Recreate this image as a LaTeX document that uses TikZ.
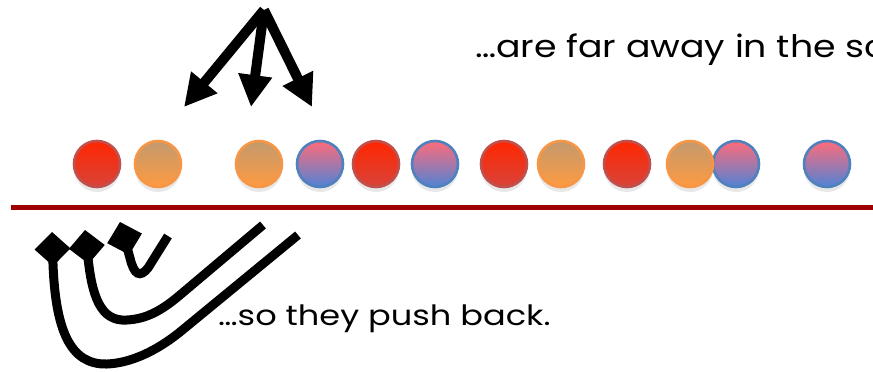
\documentclass[tikz,border=0pt]{standalone}
\usepackage{fontspec}
\setmainfont{Poppins}
\usetikzlibrary{arrows.meta, shadows}
\definecolor{redtop}{HTML}{FF2600}
\definecolor{redbot}{HTML}{D8443A}
\definecolor{redrim}{HTML}{C0504D}
\definecolor{orangetop}{HTML}{C29A6E}
\definecolor{orangebot}{HTML}{FF9A40}
\definecolor{orangerim}{HTML}{F79646}
\definecolor{bluetop}{HTML}{FF6B7A}
\definecolor{bluebot}{HTML}{5083D6}
\definecolor{bluerim}{HTML}{4F81BD}
\definecolor{floor}{HTML}{9E0000}
\tikzset{
  ball/.style={circle, inner sep=0pt, minimum size=46pt, line width=2.6pt,
    drop shadow={shadow xshift=0pt, shadow yshift=-5pt, opacity=0.18}},
  redball/.style={ball, draw=redrim, top color=redtop, bottom color=redbot},
  orangeball/.style={ball, draw=orangerim, top color=orangetop, bottom color=orangebot},
  blueball/.style={ball, draw=bluerim, top color=bluetop, bottom color=bluebot},
  bigarrow/.style={line width=10pt, -{Triangle[length=32pt, width=32pt]}},
  pushcurve/.style={line width=9pt, {Diamond[length=34pt, width=36pt]}-},
  words/.style={anchor=base west, inner sep=0pt}
}
\begin{document}
\begin{tikzpicture}[x=1pt, y=-1pt]
  \useasboundingbox (0,0) rectangle (873,372);
  \clip (0,0) rectangle (873,372);
  \coordinate (apex) at (264,10);
  \coordinate (tl) at (184,107);
  \coordinate (tm) at (251,107);
  \coordinate (tr) at (312,107);
  \draw[bigarrow] (apex) -- (tl);
  \draw[bigarrow] (apex) -- (tm);
  \draw[bigarrow] (apex) -- (tr);
  \node[words, font=\fontsize{31}{36}\selectfont] (far) at (475,57) {\scalebox{1.17}[1]{…are far away in the sco}};
  \node[redball] (b1) at (97,164) {};
  \node[orangeball] (b2) at (158,164) {};
  \node[orangeball] (b3) at (259,164) {};
  \node[blueball] (b4) at (320,164) {};
  \node[redball] (b5) at (376,164) {};
  \node[blueball] (b6) at (435,164) {};
  \node[redball] (b7) at (504,164) {};
  \node[orangeball] (b8) at (561,164) {};
  \node[redball] (b9) at (627,164) {};
  \node[blueball] (b11) at (736,164) {};
  \node[orangeball] (b10) at (690,164) {};
  \node[blueball] (b12) at (827,164) {};
  \draw[floor, line width=5pt] (11,207.5) -- (873,207.5);
  \draw[pushcurve] (52,232) .. controls (55,330) and (70,365) .. (107,364)
    .. controls (130,363) and (155,352) .. (180,332) -- (298,235);
  \draw[pushcurve] (85,230) .. controls (92,295) and (100,322) .. (127,320)
    .. controls (145,319) and (160,312) .. (180,295) -- (263,225);
  \draw[pushcurve] (120,222) -- (130,258) .. controls (134,275) and (140,278) .. (148,268) -- (168,236);
  \node[words, font=\fontsize{28}{33}\selectfont] (back) at (218,325) {\scalebox{1.2}[1]{…so they push back.}};
\end{tikzpicture}
\end{document}
